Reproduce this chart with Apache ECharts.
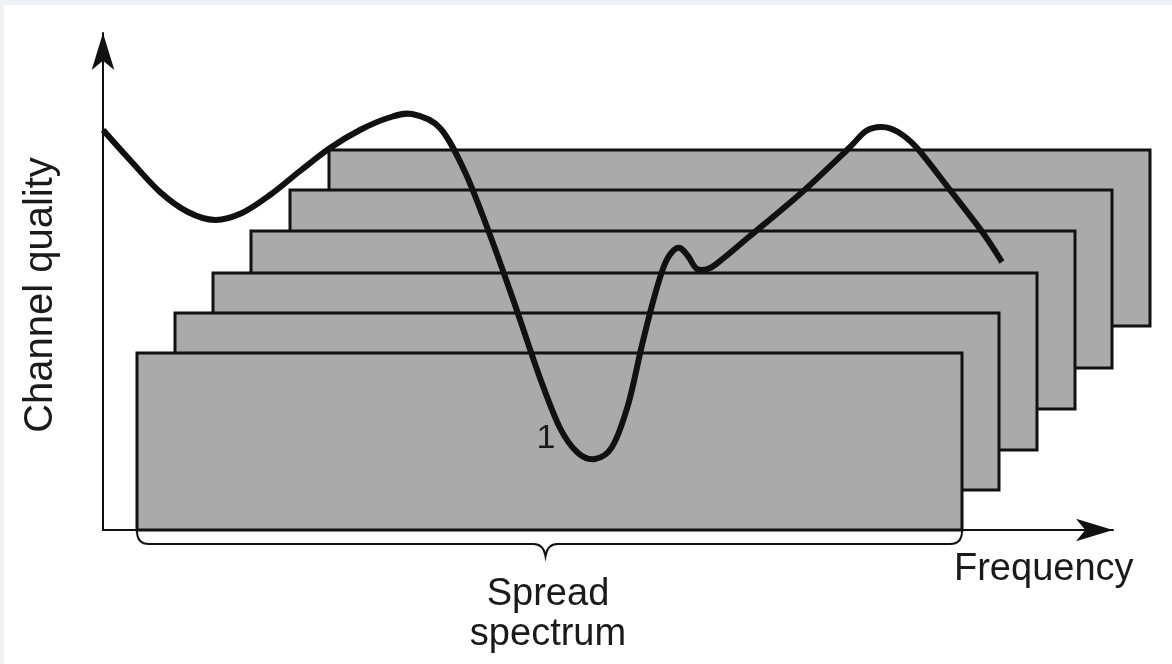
<!DOCTYPE html>
<html>
<head>
<meta charset="utf-8">
<script src="https://cdn.jsdelivr.net/npm/echarts@6.0.0/dist/echarts.min.js"></script>
<style>
  html, body { margin: 0; padding: 0; background: #fff; }
  #chart { width: 1172px; height: 664px; }
</style>
</head>
<body>
<div id="chart"></div>
<script>
  // channel quality curve (frequency, quality)
  const curveFreq = [0, 27, 57, 85, 112, 139, 167, 197, 227, 257, 285, 309, 337, 362, 387, 412, 437, 457, 475, 492, 509, 525, 539, 551, 561, 569, 577, 585, 594, 607, 622, 647, 697, 744, 763, 779, 795, 814, 847, 880, 899]
  const curveQuality = [400, 370, 338, 318, 310, 317, 335, 359, 382, 400, 412, 416, 402, 358, 295, 225, 152, 102, 77, 71, 83, 125, 185, 232, 264, 278, 282, 274, 261, 262, 273, 294, 336, 380, 399, 403, 398, 382, 340, 297, 268]

  // stacked spectrum bands, back to front
  const bandLeft = [226, 187, 148, 110, 72, 34]
  const bandRight = [1047, 1009, 972, 934, 896, 859]
  const bandBottom = [204, 162, 121, 80, 40, 0]
  const bandTop = [380, 340, 299, 257, 217, 177]

  // spread spectrum span (under the front band)
  const spreadSpan = [34, 859]

  const font = "'Liberation Sans', Arial, sans-serif"
  const ink = '#111'

  let chart = echarts.init(document.getElementById('chart'))

  let bandData = bandLeft.map((l, i) => [l, bandRight[i], bandBottom[i], bandTop[i]])
  let curveData = curveFreq.map((f, i) => [f, curveQuality[i]])

  // smooth path through the points (catmull-rom -> bezier)
  function splinePath(pts) {
    let d = 'M' + pts[0][0] + ',' + pts[0][1]
    for (let i = 0; i < pts.length - 1; i++) {
      let p0 = pts[i - 1] || pts[i]
      let p1 = pts[i]
      let p2 = pts[i + 1]
      let p3 = pts[i + 2] || p2
      let c1x = p1[0] + (p2[0] - p0[0]) / 6
      let c1y = p1[1] + (p2[1] - p0[1]) / 6
      let c2x = p2[0] - (p3[0] - p1[0]) / 6
      let c2y = p2[1] - (p3[1] - p1[1]) / 6
      d += ' C' + c1x + ',' + c1y + ' ' + c2x + ',' + c2y + ' ' + p2[0] + ',' + p2[1]
    }
    return d
  }

  let option = {
    backgroundColor: '#fff',
    animation: false,
    grid: { left: 103, right: 59, top: 33, bottom: 134 },
    xAxis: {
      type: 'value',
      min: 0,
      max: 1010,
      axisLine: {
        lineStyle: { color: ink, width: 2 },
        symbol: ['none', 'arrow'],
        symbolSize: [17, 37]
      },
      axisTick: { show: false },
      axisLabel: { show: false },
      splitLine: { show: false }
    },
    yAxis: {
      type: 'value',
      min: 0,
      max: 497,
      axisLine: {
        show: true,
        lineStyle: { color: ink, width: 2 },
        symbol: ['none', 'arrow'],
        symbolSize: [17, 37]
      },
      axisTick: { show: false },
      axisLabel: { show: false },
      splitLine: { show: false }
    },
    graphic: [
      { type: 'rect', z: 0, shape: { x: 0, y: 0, width: 1172, height: 5 }, style: { fill: '#eef1f6' }, silent: true },
      { type: 'rect', z: 0, shape: { x: 0, y: 5, width: 4, height: 659 }, style: { fill: '#eef1f6' }, silent: true },
      {
        type: 'text', x: 41, y: 295, rotation: Math.PI / 2,
        style: { text: 'Channel quality', font: '40px ' + font, fill: '#1a1a1a', align: 'center', verticalAlign: 'middle' }
      },
      {
        type: 'text', x: 954, y: 570,
        style: { text: 'Frequency', font: '38px ' + font, fill: '#1a1a1a', align: 'left', verticalAlign: 'middle' }
      },
      {
        type: 'text', x: 548, y: 595,
        style: { text: 'Spread', font: '38px ' + font, fill: '#1a1a1a', align: 'center', verticalAlign: 'middle' }
      },
      {
        type: 'text', x: 548, y: 635,
        style: { text: 'spectrum', font: '38px ' + font, fill: '#1a1a1a', align: 'center', verticalAlign: 'middle' }
      },
      {
        type: 'text', x: 546, y: 439, z: 20,
        style: { text: '1', fontSize: 34, fontFamily: font, fill: '#1a1a1a', align: 'center', verticalAlign: 'middle' }
      }
    ],
    series: [
      {
        type: 'custom',
        name: 'bands',
        clip: false,
        z: 3,
        data: bandData,
        encode: { x: [0, 1], y: [2, 3] },
        renderItem: function (params, api) {
          let p0 = api.coord([api.value(0), api.value(3)])
          let p1 = api.coord([api.value(1), api.value(2)])
          return {
            type: 'rect',
            shape: { x: p0[0], y: p0[1], width: p1[0] - p0[0], height: p1[1] - p0[1] },
            style: { fill: '#aaaaaa', stroke: ink, lineWidth: 3 }
          }
        }
      },
      {
        type: 'custom',
        name: 'brace',
        clip: false,
        z: 3,
        data: [spreadSpan],
        encode: { x: [0, 1] },
        renderItem: function (params, api) {
          let a = api.coord([api.value(0), 0])
          let b = api.coord([api.value(1), 0])
          let y0 = a[1] + 1
          let y1 = y0 + 13
          let mid = (a[0] + b[0]) / 2 - 4
          let r = 12
          let d = 'M' + a[0] + ',' + y0 +
            ' Q' + a[0] + ',' + y1 + ' ' + (a[0] + r) + ',' + y1 +
            ' L' + (mid - 12) + ',' + y1 +
            ' Q' + (mid - 2) + ',' + y1 + ' ' + mid + ',' + (y1 + 12) +
            ' Q' + (mid + 2) + ',' + y1 + ' ' + (mid + 12) + ',' + y1 +
            ' L' + (b[0] - r) + ',' + y1 +
            ' Q' + b[0] + ',' + y1 + ' ' + b[0] + ',' + y0
          return {
            type: 'path',
            shape: { pathData: d },
            style: { fill: 'none', stroke: ink, lineWidth: 2 }
          }
        }
      },
      {
        type: 'custom',
        name: 'channel quality',
        clip: false,
        z: 5,
        data: curveData,
        encode: { x: 0, y: 1 },
        renderItem: function (params, api) {
          if (params.dataIndex !== 0) return null
          let pts = curveData.map(p => api.coord(p))
          return {
            type: 'path',
            shape: { pathData: splinePath(pts) },
            style: { fill: 'none', stroke: ink, lineWidth: 6, lineJoin: 'round', lineCap: 'butt' }
          }
        }
      }
    ]
  }

  chart.setOption(option)
</script>
</body>
</html>
